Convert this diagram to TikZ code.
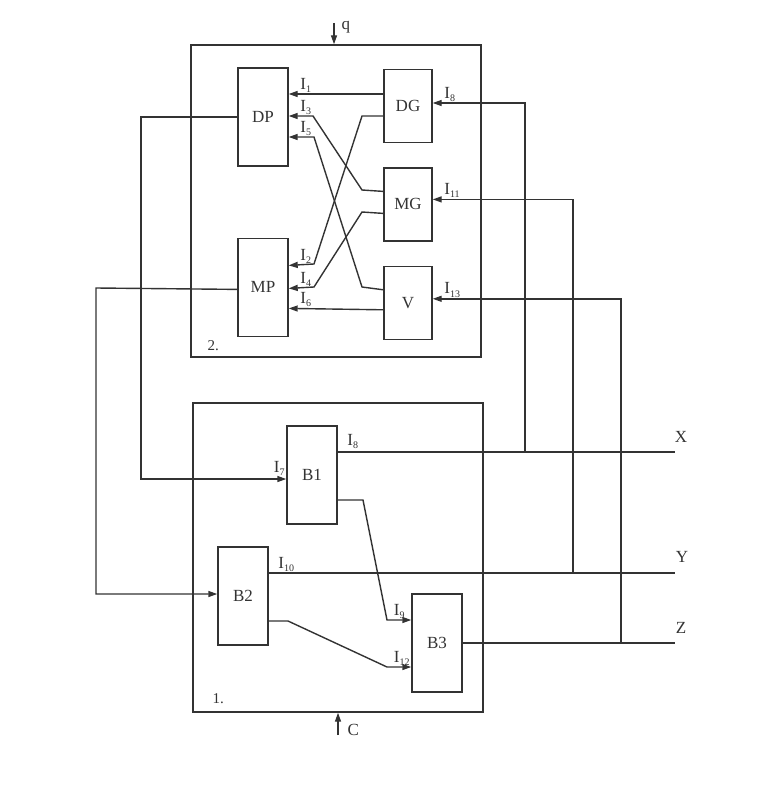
\documentclass[tikz,border=0pt]{standalone}
\usepackage{fontspec}
\setmainfont{Liberation Serif}
\usepackage{tikz}
\usetikzlibrary{arrows.meta, positioning}

\newcommand{\isub}[1]{I\raisebox{-3.5pt}{\fontsize{10}{10}\selectfont #1}}

\begin{document}
\begin{tikzpicture}[
        x=1pt, y=-1pt,
        line width=1.4pt, color=black!80,
        font=\fontsize{17}{17}\selectfont,
        unit/.style={rectangle, draw, minimum width=50pt, minimum height=98pt, inner sep=0pt},
        gen/.style={rectangle, draw, minimum width=48pt, minimum height=73pt, inner sep=0pt},
        block/.style={rectangle, draw, inner sep=0pt},
        arr/.style={-{Triangle[length=9pt,width=6pt]}},
        lab/.style={anchor=base west, inner sep=0pt, xshift=11pt, yshift=5pt},
        labl/.style={anchor=base east, inner sep=0pt, xshift=-1pt, yshift=5pt},
        num/.style={anchor=base west, inner sep=0pt, font=\fontsize{15}{15}\selectfont}
    ]
        \useasboundingbox (0,0) rectangle (775,800);

        % Block 2
        \node[block, minimum width=290pt, minimum height=312pt] (blk2) at (336,201) {};
        \node[num] (n2) at (207,350) {2.};
        \node[unit] (DP) at (263,117) {DP};
        \node[unit, below=71pt of DP] (MP) {MP};
        \node[gen] (DG) at (408,106) {DG};
        \node[gen, below=24pt of DG] (MG) {MG};
        \node[gen, below=24pt of MG] (V) {V};

        % Block 1
        \node[block, minimum width=290pt, minimum height=309pt] (blk1) at (338,557.5) {};
        \node[num] (n1) at (212,703) {1.};
        \node[unit] (B1) at (312,475) {B1};
        \node[unit] (B2) at (243,596) {B2};
        \node[unit] (B3) at (437,643) {B3};

        % Outputs
        \coordinate (X) at (675,452);
        \coordinate (Y) at (675,573);
        \coordinate (Z) at (675,643);
        \node[anchor=base] (xl) at (681,442) {X};
        \node[anchor=base] (yl) at (682,562) {Y};
        \node[anchor=base] (zl) at (681,633) {Z};

        % Control inputs
        \coordinate (qin) at (334,23);
        \coordinate (cin) at (338,735);
        \draw[arr] (qin) -- (qin |- blk2.north);
        \node[anchor=base west, inner sep=0pt] (ql) at (341,30) {q};
        \draw[arr] (cin) -- (cin |- blk1.south);
        \node[anchor=base west, inner sep=0pt] (cl) at (347,735) {C};

        % Links inside block 2
        \draw[arr] ([yshift=12pt]DG.west) -- ([yshift=23pt]DP.east) node[lab] {\isub{1}};
        \draw[arr] ([yshift=13pt]MG.west) -- (362,190) -- (313,116) -- ([yshift=1pt]DP.east) node[lab] {\isub{3}};
        \draw[arr] ([yshift=13pt]V.west) -- (362,287) -- (314,137) -- ([yshift=-20pt]DP.east) node[lab] {\isub{5}};
        \draw[arr] ([yshift=-10pt]DG.west) -- (362,116) -- (314,264) -- ([yshift=22pt]MP.east) node[lab] {\isub{2}};
        \draw[arr] ([yshift=-9pt]MG.west) -- (362,212) -- (314,287) -- ([yshift=-1pt]MP.east) node[lab] {\isub{4}};
        \draw[arr] ([yshift=-7pt]V.west) -- ([yshift=-21pt]MP.east) node[lab] {\isub{6}};

        % Links inside block 1
        \draw ([yshift=23pt]B1.east) node[lab, xshift=-2pt, yshift=2pt] {\isub{8}} -- (X);
        \draw ([yshift=23pt]B2.east) node[lab, xshift=-2pt] {\isub{10}} -- (Y);
        \draw (B3.east) -- (Z);
        \draw[arr] ([yshift=-25pt]B1.east) -- (363,500) -- (387,620) -- ([yshift=23pt]B3.west) node[labl, xshift=-5pt] {\isub{9}};
        \draw[arr] ([yshift=-25pt]B2.east) -- (288,621) -- (387,667) -- ([yshift=-24pt]B3.west) node[labl] {\isub{12}};

        % Feedback from block 2 to block 1
        \draw[arr] (DP.west) -- (141,117) |- ([yshift=-4pt]B1.west) node[labl, yshift=2pt] {\isub{7}};
        \draw[arr] ([yshift=-2pt]MP.west) -- (96,288) |- ([yshift=2pt]B2.west);

        % Feedback from outputs to generators
        \coordinate (jx) at (525,452);
        \coordinate (jy) at (573,573);
        \coordinate (jz) at (621,643);
        \draw[arr] (jx) |- ([yshift=3pt]DG.east) node[lab] {\isub{8}};
        \draw[arr] (jy) |- ([yshift=5pt]MG.east) node[lab] {\isub{11}};
        \draw[arr] (jz) |- ([yshift=4pt]V.east) node[lab] {\isub{13}};
    \end{tikzpicture}
\end{document}
